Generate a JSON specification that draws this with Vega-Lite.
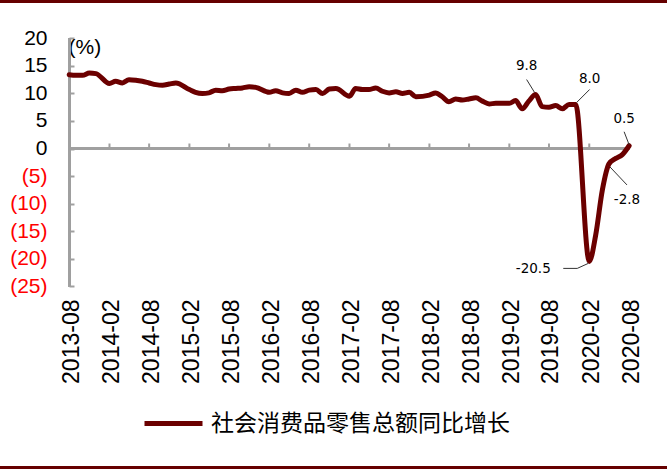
{
  "$schema": "https://vega.github.io/schema/vega-lite/v6.json",
  "width": 667,
  "height": 463,
  "autosize": "none",
  "padding": {"top": 3, "bottom": 3, "left": 0, "right": 0},
  "background": "#660000",
  "config": {
    "view": {"fill": "white", "stroke": null},
    "font": "Liberation Sans",
    "locale": {"number": {"decimal": ".", "thousands": ",", "grouping": [3], "currency": ["$", ""], "minus": "-"}}
  },
  "data": {
    "format": {"parse": {"date": "date"}},
    "values": [
      {"date": "2013-08-01", "value": 13.4}, {"date": "2013-09-01", "value": 13.3}, {"date": "2013-10-01", "value": 13.3}, {"date": "2013-11-01", "value": 13.7}, {"date": "2013-12-01", "value": 13.6},
      {"date": "2014-02-01", "value": 11.8}, {"date": "2014-03-01", "value": 12.2}, {"date": "2014-04-01", "value": 11.9}, {"date": "2014-05-01", "value": 12.5}, {"date": "2014-06-01", "value": 12.4}, {"date": "2014-07-01", "value": 12.2}, {"date": "2014-08-01", "value": 11.9}, {"date": "2014-09-01", "value": 11.6}, {"date": "2014-10-01", "value": 11.5}, {"date": "2014-11-01", "value": 11.7}, {"date": "2014-12-01", "value": 11.9},
      {"date": "2015-02-01", "value": 10.7}, {"date": "2015-03-01", "value": 10.2}, {"date": "2015-04-01", "value": 10.0}, {"date": "2015-05-01", "value": 10.1}, {"date": "2015-06-01", "value": 10.6}, {"date": "2015-07-01", "value": 10.5}, {"date": "2015-08-01", "value": 10.8}, {"date": "2015-09-01", "value": 10.9}, {"date": "2015-10-01", "value": 11.0}, {"date": "2015-11-01", "value": 11.2}, {"date": "2015-12-01", "value": 11.1},
      {"date": "2016-02-01", "value": 10.2}, {"date": "2016-03-01", "value": 10.5}, {"date": "2016-04-01", "value": 10.1}, {"date": "2016-05-01", "value": 10.0}, {"date": "2016-06-01", "value": 10.6}, {"date": "2016-07-01", "value": 10.2}, {"date": "2016-08-01", "value": 10.6}, {"date": "2016-09-01", "value": 10.7}, {"date": "2016-10-01", "value": 10.0}, {"date": "2016-11-01", "value": 10.8}, {"date": "2016-12-01", "value": 10.9},
      {"date": "2017-02-01", "value": 9.5}, {"date": "2017-03-01", "value": 10.9}, {"date": "2017-04-01", "value": 10.7}, {"date": "2017-05-01", "value": 10.7}, {"date": "2017-06-01", "value": 11.0}, {"date": "2017-07-01", "value": 10.4}, {"date": "2017-08-01", "value": 10.1}, {"date": "2017-09-01", "value": 10.3}, {"date": "2017-10-01", "value": 10.0}, {"date": "2017-11-01", "value": 10.2}, {"date": "2017-12-01", "value": 9.4},
      {"date": "2018-02-01", "value": 9.7}, {"date": "2018-03-01", "value": 10.1}, {"date": "2018-04-01", "value": 9.4}, {"date": "2018-05-01", "value": 8.5}, {"date": "2018-06-01", "value": 9.0}, {"date": "2018-07-01", "value": 8.8}, {"date": "2018-08-01", "value": 9.0}, {"date": "2018-09-01", "value": 9.2}, {"date": "2018-10-01", "value": 8.6}, {"date": "2018-11-01", "value": 8.1}, {"date": "2018-12-01", "value": 8.2},
      {"date": "2019-02-01", "value": 8.2}, {"date": "2019-03-01", "value": 8.7}, {"date": "2019-04-01", "value": 7.2}, {"date": "2019-05-01", "value": 8.6}, {"date": "2019-06-01", "value": 9.8}, {"date": "2019-07-01", "value": 7.6}, {"date": "2019-08-01", "value": 7.5}, {"date": "2019-09-01", "value": 7.8}, {"date": "2019-10-01", "value": 7.2}, {"date": "2019-11-01", "value": 8.0}, {"date": "2019-12-01", "value": 8.0},
      {"date": "2020-02-01", "value": -20.5}, {"date": "2020-03-01", "value": -15.8}, {"date": "2020-04-01", "value": -7.5}, {"date": "2020-05-01", "value": -2.8}, {"date": "2020-06-01", "value": -1.8}, {"date": "2020-07-01", "value": -1.1}, {"date": "2020-08-01", "value": 0.5}
    ]
  },
  "layer": [
    {
      "mark": {"type": "rule", "color": "#A0A0A0", "strokeWidth": 2},
      "encoding": {
        "x": {"datum": {"year": 2013, "month": 8, "date": 1, "utc": true}, "type": "temporal"},
        "x2": {"datum": {"year": 2020, "month": 8, "date": 1, "utc": true}},
        "y": {"datum": 0, "type": "quantitative"}
      }
    },
    {
      "mark": {"type": "rule", "color": "#A0A0A0", "strokeWidth": 2},
      "encoding": {
        "x": {"datum": {"year": 2013, "month": 8, "date": 1, "utc": true}, "type": "temporal"},
        "y": {"datum": 20, "type": "quantitative"},
        "y2": {"datum": -25}
      }
    },
    {
      "transform": [{"filter": "(utcmonth(datum.date) == 1 || utcmonth(datum.date) == 7) && utcyear(datum.date) + utcmonth(datum.date) / 12 > 2013.6"}],
      "mark": {"type": "rule", "color": "#A0A0A0", "strokeWidth": 2, "y2Offset": -5},
      "encoding": {
        "x": {"field": "date", "type": "temporal"},
        "y": {"datum": 0, "type": "quantitative"},
        "y2": {"datum": 0}
      }
    },
    {
      "mark": {"type": "line", "strokeWidth": 5, "interpolate": "monotone", "strokeJoin": "round", "strokeCap": "round"},
      "encoding": {
        "x": {
          "field": "date", "type": "temporal",
          "scale": {"type": "utc", "domain": [{"year": 2012, "month": 9, "date": 19, "utc": true}, {"year": 2021, "month": 1, "date": 21, "utc": true}], "nice": false},
          "axis": {
            "orient": "bottom", "offset": -173, "title": null, "domain": false, "ticks": false, "tickSize": 0, "grid": false,
            "values": [
              {"year": 2013, "month": 8, "date": 1, "utc": true}, {"year": 2014, "month": 2, "date": 1, "utc": true}, {"year": 2014, "month": 8, "date": 1, "utc": true},
              {"year": 2015, "month": 2, "date": 1, "utc": true}, {"year": 2015, "month": 8, "date": 1, "utc": true}, {"year": 2016, "month": 2, "date": 1, "utc": true},
              {"year": 2016, "month": 8, "date": 1, "utc": true}, {"year": 2017, "month": 2, "date": 1, "utc": true}, {"year": 2017, "month": 8, "date": 1, "utc": true},
              {"year": 2018, "month": 2, "date": 1, "utc": true}, {"year": 2018, "month": 8, "date": 1, "utc": true}, {"year": 2019, "month": 2, "date": 1, "utc": true},
              {"year": 2019, "month": 8, "date": 1, "utc": true}, {"year": 2020, "month": 2, "date": 1, "utc": true}, {"year": 2020, "month": 8, "date": 1, "utc": true}
            ],
            "labelExpr": "utcFormat(datum.value, '%Y-%m')",
            "labelAngle": -90, "labelAlign": "right", "labelBaseline": "middle", "labelPadding": 6, "labelOffset": 2,
            "labelFont": "Liberation Sans", "labelFontSize": 23, "labelColor": "black",
            "labelOverlap": false, "labelFlush": false, "labelBound": false
          }
        },
        "y": {
          "field": "value", "type": "quantitative",
          "scale": {"domain": [-57.65, 26.42], "nice": false, "zero": false},
          "axis": {
            "orient": "left", "offset": -69, "domain": false, "grid": false,
            "values": [-25, -20, -15, -10, -5, 0, 5, 10, 15, 20],
            "ticks": true, "tickSize": -5, "tickColor": "#A0A0A0", "tickWidth": 2,
            "labelExpr": "datum.value < 0 ? '(' + abs(datum.value) + ')' : datum.value + ' '",
            "labelColor": {"condition": {"test": "datum.value < 0", "value": "#FF0000"}, "value": "black"},
            "labelFont": "Liberation Sans", "labelFontSize": 21, "labelPadding": 27, "labelAlign": "right", "labelBaseline": "middle",
            "title": "(%)", "titleAngle": 0, "titleX": -1, "titleY": 44, "titleAlign": "left", "titleBaseline": "middle",
            "titleFont": "Liberation Sans", "titleFontSize": 21, "titleFontWeight": "normal", "titleColor": "black"
          }
        },
        "color": {
          "datum": "社会消费品零售总额同比增长",
          "type": "nominal",
          "scale": {"range": ["#6B0000"]},
          "legend": {
            "orient": "none", "legendX": 142, "legendY": 389, "title": null,
            "symbolType": "stroke", "symbolSize": 3364, "symbolStrokeWidth": 5,
            "labelFont": "Noto Sans CJK SC", "labelFontSize": 23, "labelColor": "black", "labelLimit": 0, "labelOffset": 6
          }
        }
      }
    },
    {
      "transform": [{"filter": "utcyear(datum.date) == 2019 && utcmonth(datum.date) == 5"}],
      "layer": [
        {"mark": {"type": "text", "dx": -9, "dy": -29, "font": "DejaVu Sans", "fontSize": 13.5, "color": "black"},
         "encoding": {"x": {"field": "date", "type": "temporal"}, "y": {"field": "value", "type": "quantitative"}, "text": {"field": "value", "format": ".1f"}}},
        {"mark": {"type": "rule", "color": "#333333", "strokeWidth": 1, "xOffset": -1, "yOffset": -2, "x2Offset": -9, "y2Offset": -15},
         "encoding": {"x": {"field": "date", "type": "temporal"}, "y": {"field": "value", "type": "quantitative"}, "x2": {"field": "date"}, "y2": {"field": "value"}}}
      ]
    },
    {
      "transform": [{"filter": "utcyear(datum.date) == 2019 && utcmonth(datum.date) == 11"}],
      "layer": [
        {"mark": {"type": "text", "dx": 14, "dy": -25, "font": "DejaVu Sans", "fontSize": 13.5, "color": "black"},
         "encoding": {"x": {"field": "date", "type": "temporal"}, "y": {"field": "value", "type": "quantitative"}, "text": {"field": "value", "format": ".1f"}}},
        {"mark": {"type": "rule", "color": "#333333", "strokeWidth": 1, "xOffset": 1, "yOffset": -2, "x2Offset": 14, "y2Offset": -15},
         "encoding": {"x": {"field": "date", "type": "temporal"}, "y": {"field": "value", "type": "quantitative"}, "x2": {"field": "date"}, "y2": {"field": "value"}}}
      ]
    },
    {
      "transform": [{"filter": "utcyear(datum.date) == 2020 && utcmonth(datum.date) == 7"}],
      "layer": [
        {"mark": {"type": "text", "dx": -5, "dy": -27, "font": "DejaVu Sans", "fontSize": 13.5, "color": "black"},
         "encoding": {"x": {"field": "date", "type": "temporal"}, "y": {"field": "value", "type": "quantitative"}, "text": {"field": "value", "format": ".1f"}}},
        {"mark": {"type": "rule", "color": "#333333", "strokeWidth": 1, "xOffset": -5, "yOffset": -14, "x2Offset": 0, "y2Offset": -1},
         "encoding": {"x": {"field": "date", "type": "temporal"}, "y": {"field": "value", "type": "quantitative"}, "x2": {"field": "date"}, "y2": {"field": "value"}}}
      ]
    },
    {
      "transform": [{"filter": "utcyear(datum.date) == 2020 && utcmonth(datum.date) == 4"}],
      "layer": [
        {"mark": {"type": "text", "dx": 18, "dy": 36, "font": "DejaVu Sans", "fontSize": 13.5, "color": "black"},
         "encoding": {"x": {"field": "date", "type": "temporal"}, "y": {"field": "value", "type": "quantitative"}, "text": {"field": "value", "format": ".1f"}}},
        {"mark": {"type": "rule", "color": "#333333", "strokeWidth": 1, "xOffset": 1, "yOffset": 3, "x2Offset": 18, "y2Offset": 21},
         "encoding": {"x": {"field": "date", "type": "temporal"}, "y": {"field": "value", "type": "quantitative"}, "x2": {"field": "date"}, "y2": {"field": "value"}}}
      ]
    },
    {
      "transform": [{"filter": "utcyear(datum.date) == 2020 && utcmonth(datum.date) == 1"}],
      "layer": [
        {"mark": {"type": "text", "dx": -56, "dy": 8, "font": "DejaVu Sans", "fontSize": 13.5, "color": "black"},
         "encoding": {"x": {"field": "date", "type": "temporal"}, "y": {"field": "value", "type": "quantitative"}, "text": {"field": "value", "format": ".1f"}}},
        {"mark": {"type": "rule", "color": "#333333", "strokeWidth": 1, "xOffset": -26, "yOffset": 7, "x2Offset": -12, "y2Offset": 7},
         "encoding": {"x": {"field": "date", "type": "temporal"}, "y": {"field": "value", "type": "quantitative"}, "x2": {"field": "date"}, "y2": {"field": "value"}}},
        {"mark": {"type": "rule", "color": "#333333", "strokeWidth": 1, "xOffset": -12, "yOffset": 7, "x2Offset": -1, "y2Offset": 2},
         "encoding": {"x": {"field": "date", "type": "temporal"}, "y": {"field": "value", "type": "quantitative"}, "x2": {"field": "date"}, "y2": {"field": "value"}}}
      ]
    }
  ]
}
